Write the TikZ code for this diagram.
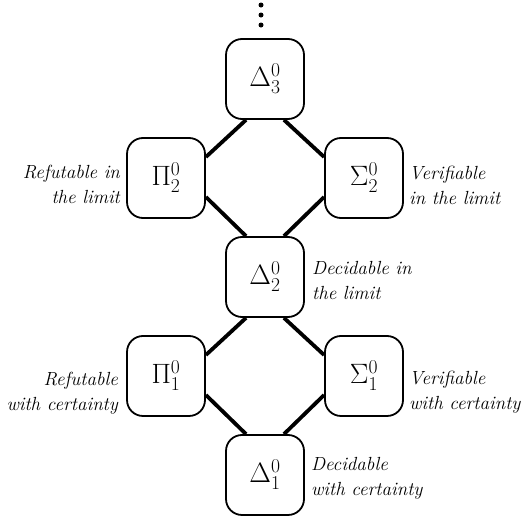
\RequirePackage{fix-cm}
\documentclass[tikz,border=0pt]{standalone}
\usepackage{fontspec}
\usetikzlibrary{shapes,arrows}
\tikzstyle{blockWH} = [rectangle, draw, line width=1.8pt, fill=white, rounded corners=16pt, minimum width=78pt, minimum height=80pt, inner sep=0pt, font=\fontsize{28}{32}\selectfont]
\tikzstyle{textL} = [anchor=east, align=right, inner sep=0pt, font=\fontsize{19}{25}\selectfont\itshape]
\tikzstyle{textR} = [anchor=west, align=left, inner sep=0pt, font=\fontsize{19}{25}\selectfont\itshape]
\tikzstyle{dotBK} = [circle, fill, inner sep=0pt, minimum size=5pt]
\tikzstyle{line} = [draw, line width=3.8pt]

\begin{document}
\begin{tikzpicture}[node distance = 140pt]
  \useasboundingbox (0pt,0pt) rectangle (529pt,-517pt);

    % nodes
    \node [blockWH] (delta_3) at (265pt,-79pt) {$\Delta^0_3$};
    \node [blockWH, below left of = delta_3] (pi_2) {$\Pi^0_2$};
    \node [blockWH, below right of = delta_3] (sigma_2) {$\Sigma^0_2$};
    \node [blockWH, below right of = pi_2] (delta_2) {$\Delta^0_2$};
    \node [blockWH, below left of = delta_2] (pi_1) {$\Pi^0_1$};
    \node [blockWH, below right of = delta_2] (sigma_1) {$\Sigma^0_1$};
    \node [blockWH, below right of = pi_1] (delta_1) {$\Delta^0_1$};

    % puntos de arriba
    \node [dotBK, above of = delta_3, node distance = 54pt, xshift=-4pt] (dot_c) {};
    \node [dotBK, above of = dot_c, node distance = 10pt] (dot_b) {};
    \node [dotBK, above of = dot_b, node distance = 10pt] (dot_a) {};

    % edges
    \path [line] ([xshift=-19pt]delta_3.south) -- ([yshift=21pt]pi_2.east);
    \path [line] ([xshift=19pt]delta_3.south) -- ([yshift=21pt]sigma_2.west);
    \path [line] ([yshift=-19pt]pi_2.east) -- ([xshift=-19pt]delta_2.north);
    \path [line] ([yshift=-19pt]sigma_2.west) -- ([xshift=19pt]delta_2.north);
    \path [line] ([xshift=-19pt]delta_2.south) -- ([yshift=21pt]pi_1.east);
    \path [line] ([xshift=19pt]delta_2.south) -- ([yshift=21pt]sigma_1.west);
    \path [line] ([yshift=-19pt]pi_1.east) -- ([xshift=-19pt]delta_1.north);
    \path [line] ([yshift=-19pt]sigma_1.west) -- ([xshift=19pt]delta_1.north);

  % textos
  \node [textL] (pi_2_txt) at ([xshift=-6pt,yshift=-6pt]pi_2.west) {Refutable in\\the limit};
  \node [textR] (sigma_2_txt) at ([xshift=5pt,yshift=-7pt]sigma_2.east) {Verifiable\\in the limit};
  \node [textR] (delta_2_txt) at ([xshift=7pt,yshift=-4pt]delta_2.east) {Decidable in\\the limit};
  \node [textL] (pi_1_txt) at ([xshift=-8pt,yshift=-17pt]pi_1.west) {Refutable\\with certainty};
  \node [textR] (sigma_1_txt) at ([xshift=5pt,yshift=-16pt]sigma_1.east) {Verifiable\\with certainty};
  \node [textR] (delta_1_txt) at ([xshift=6pt,yshift=-3pt]delta_1.east) {Decidable\\with certainty};

  \end{tikzpicture}
\end{document}
